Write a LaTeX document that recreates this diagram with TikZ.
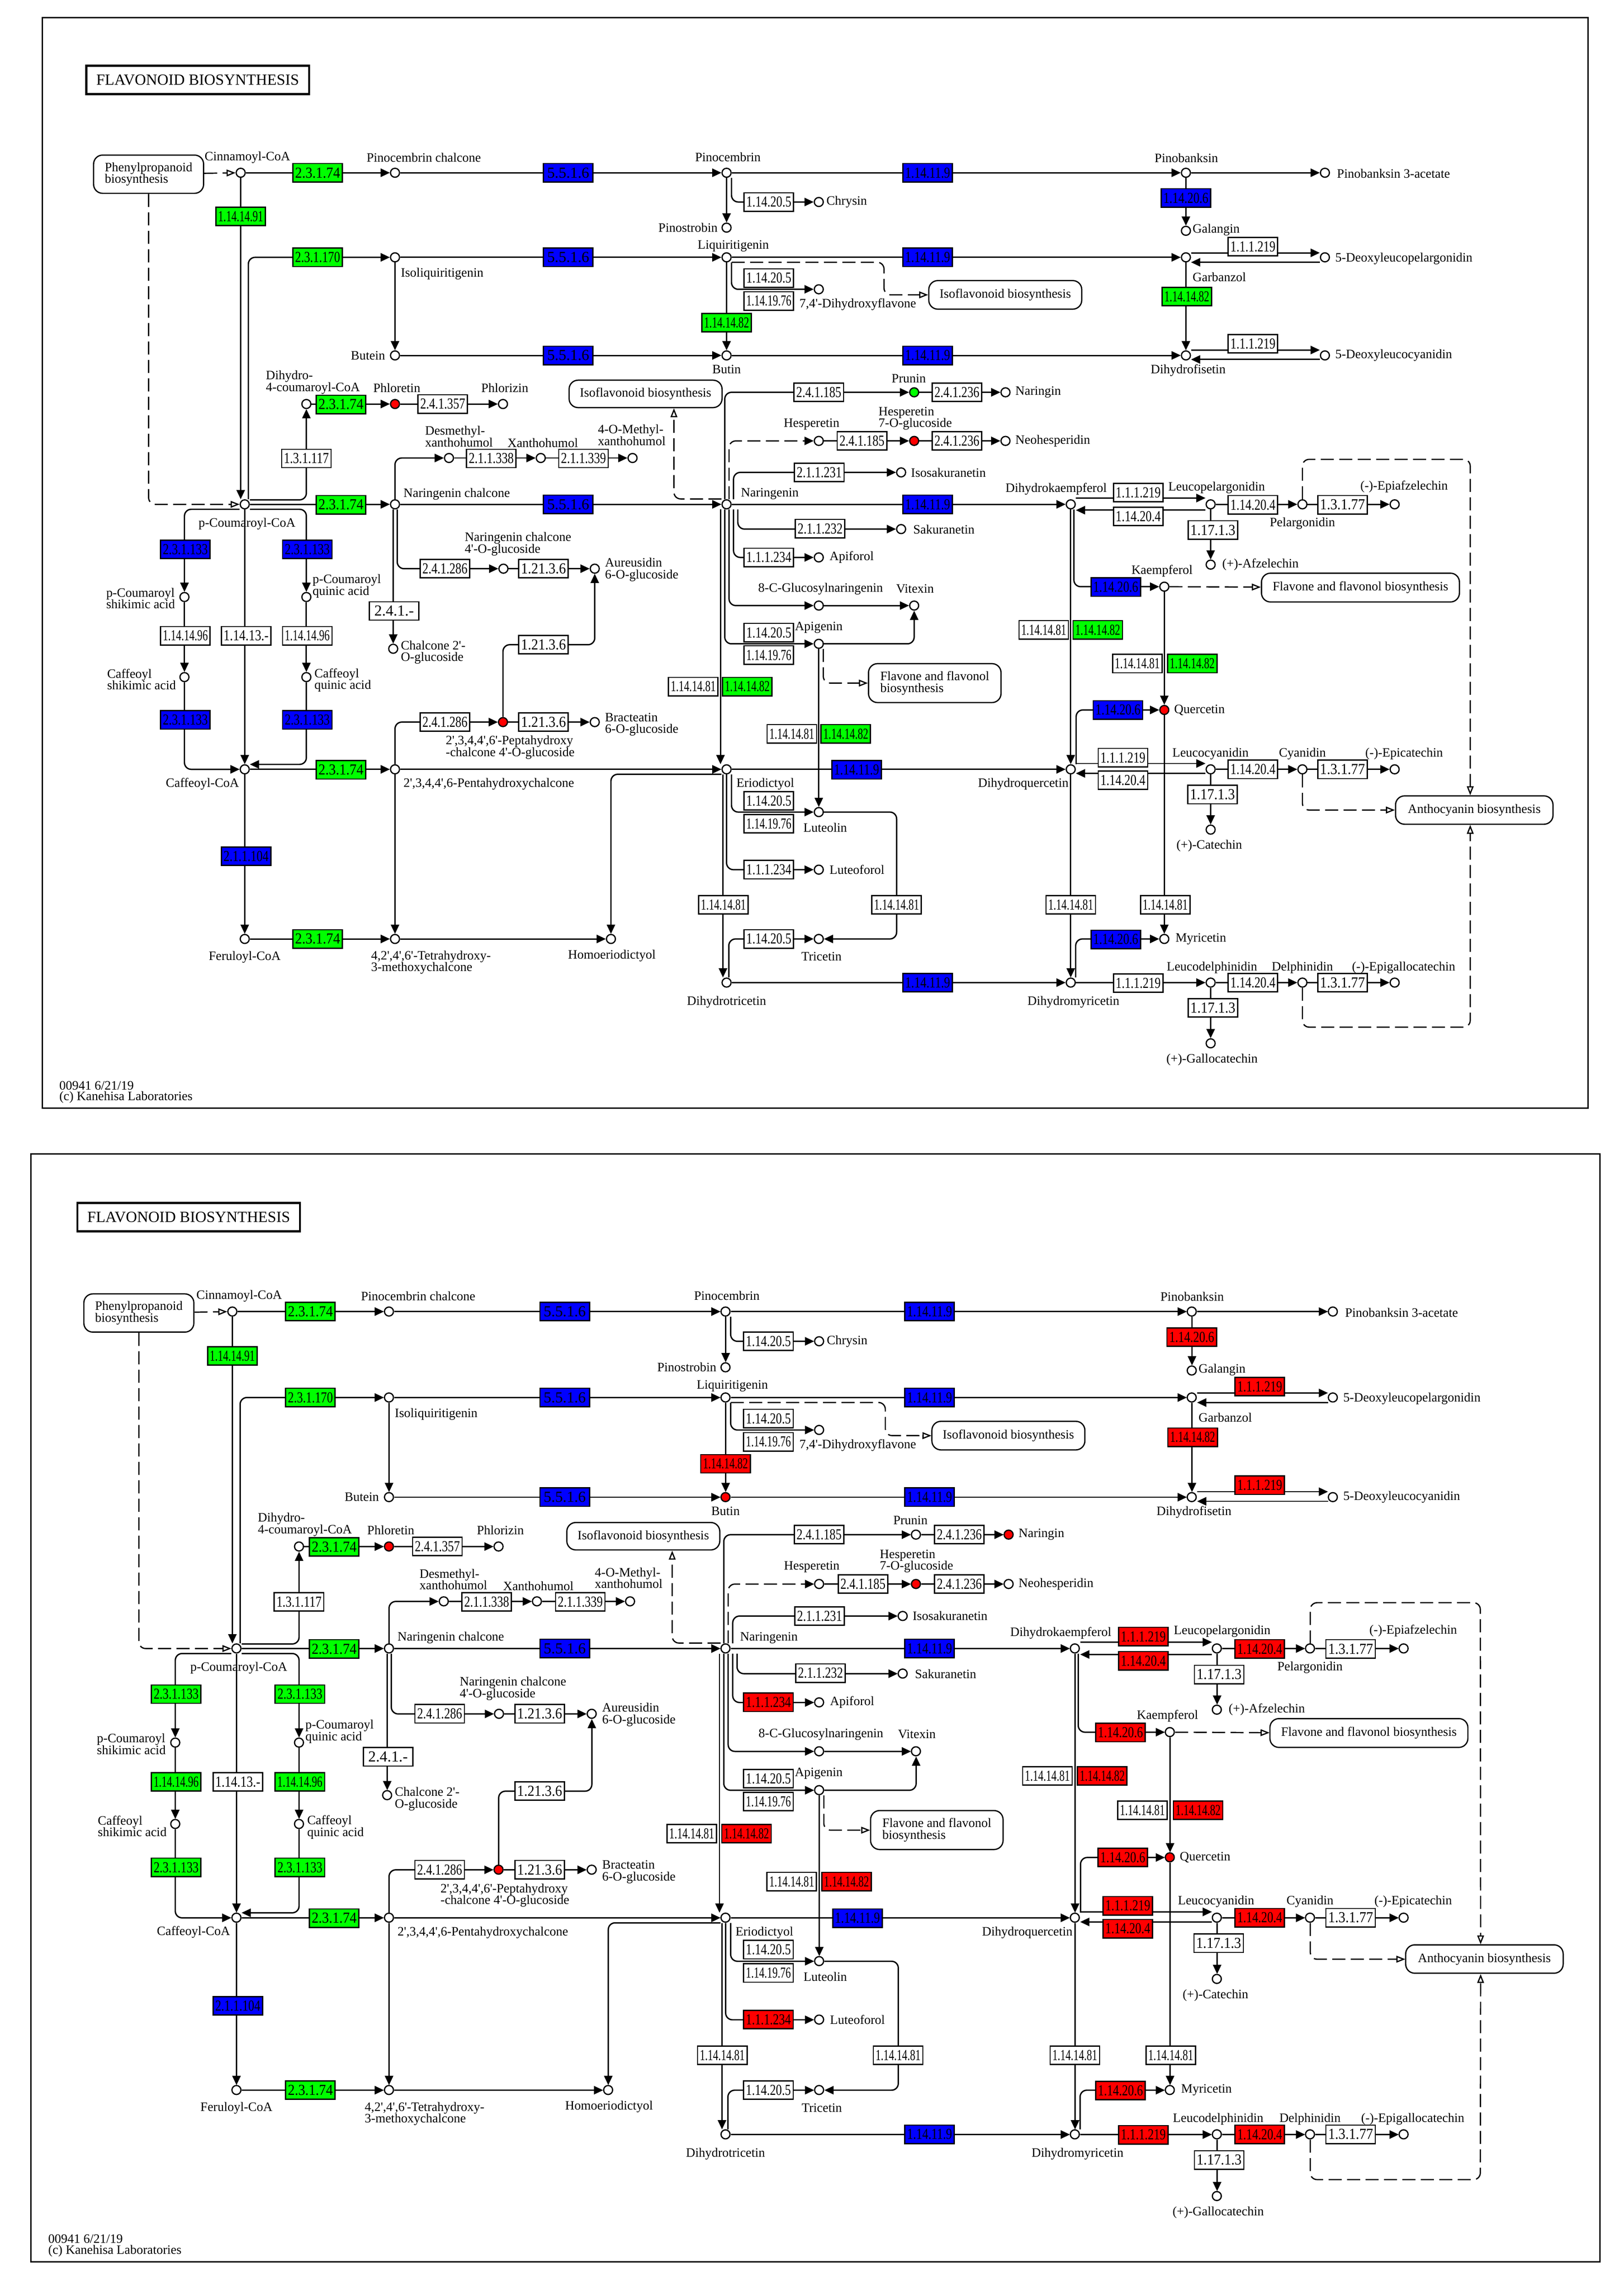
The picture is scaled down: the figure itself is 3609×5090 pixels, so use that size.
\documentclass[tikz,border=0pt]{standalone}
\usepackage{fontspec}
\setmainfont{Liberation Serif}
\usepackage{graphicx}
\usetikzlibrary{arrows.meta}
\definecolor{kG}{RGB}{0,255,0}
\definecolor{kB}{RGB}{0,0,255}
\definecolor{kR}{RGB}{255,0,0}
\colorlet{kW}{white}
\newif\ifbot
\newsavebox\ecbox
\newcommand\labf{\fontsize{5.7pt}{5.2pt}\selectfont}
\newcommand\ecf{\fontsize{6.8pt}{6.8pt}\selectfont}
\newcommand\titf{\fontsize{6.9pt}{8pt}\selectfont}
\newcommand\pr{\textquotesingle}
\newcommand\ecfit[1]{\sbox\ecbox{\ecf #1}\ifdim\wd\ecbox>20pt\relax\resizebox{20pt}{\ht\ecbox}{\usebox\ecbox}\else\usebox\ecbox\fi}
\newcommand\kE[6]{\ifbot\def\kc{#6}\else\def\kc{#5}\fi\node[ec,fill=\kc] (#1) at (#2,#3) {\ecfit{#4}};}
\newcommand\kC[5]{\ifbot\def\kc{#5}\else\def\kc{#4}\fi\node[cpd,fill=\kc] (#1) at (#2,#3) {};}
\newcommand\kL[5]{\node[lab,anchor=#4] (#1) at (#2,#3) {#5};}
\pgfdeclarelayer{bg}
\pgfsetlayers{bg,main}
\tikzset{
  ec/.style={draw,line width=0.55pt,minimum width=22pt,minimum height=8.2pt,inner sep=0pt},
  cpd/.style={circle,draw,line width=0.55pt,minimum size=4pt,inner sep=0pt},
  lab/.style={font=\labf,inner sep=0pt,align=left},
  mapb/.style={draw,rounded corners=4pt,line width=0.55pt,inner sep=0pt,align=left,font=\labf,fill=white},
  ln/.style={line width=0.6pt},
  arr/.style={-{Triangle[length=4.1pt,width=3.7pt]}},
  oarr/.style={-{Triangle[open,length=4pt,width=3pt]}},
  dsh/.style={line width=0.55pt,dash pattern=on 5.8pt off 2.4pt},
  rc/.style={rounded corners=3pt}
}
\newcommand\kmap{%
\draw[line width=0.6pt] (94,39) rectangle (3530,2463);
\node[draw,line width=0.9pt,minimum width=99pt,minimum height=12.6pt,inner sep=0pt,font=\titf] (title) at (439.5,177.5) {FLAVONOID BIOSYNTHESIS};
% pathway map boxes
\node[mapb,minimum width=48.9pt,minimum height=17pt] (ppb) at (330.3,387.2) {Phenylpropanoid\\biosynthesis};
\node[mapb,minimum width=68pt,minimum height=12.7pt] (iso1) at (2234.5,655.4) {Isoflavonoid biosynthesis};
\node[mapb,minimum width=68pt,minimum height=12.2pt] (iso2) at (1435,875.5) {Isoflavonoid biosynthesis};
\node[mapb,minimum width=58.9pt,minimum height=17.3pt] (flv1) at (2077.8,1518.3) {Flavone and flavonol\\biosynthesis};
\node[mapb,minimum width=88pt,minimum height=12.8pt] (flv2) at (3024,1306) {Flavone and flavonol biosynthesis};
\node[mapb,minimum width=70pt,minimum height=12.6pt] (antho) at (3277,1800.5) {Anthocyanin biosynthesis};
% compounds
\kC{cin}{535}{384}{kW}{kW}
\kC{pinch}{878}{384}{kW}{kW}
\kC{pcb}{1615}{384}{kW}{kW}
\kC{pnb}{2636}{384}{kW}{kW}
\kC{pnba}{2945}{384}{kW}{kW}
\kC{chr}{1820}{449}{kW}{kW}
\kC{pst}{1615}{506}{kW}{kW}
\kC{gal}{2636}{513}{kW}{kW}
\kC{isl}{878}{572}{kW}{kW}
\kC{liq}{1615}{572}{kW}{kW}
\kC{gbz}{2636}{572}{kW}{kW}
\kC{dlp}{2945}{572}{kW}{kW}
\kC{dhf7}{1820}{643}{kW}{kW}
\kC{but}{878}{790}{kW}{kW}
\kC{btn}{1615}{790}{kW}{kR}
\kC{dfs}{2636}{790}{kW}{kW}
\kC{dlc}{2945}{790}{kW}{kW}
\kC{dhc}{681}{898}{kW}{kW}
\kC{phl}{878}{898}{kR}{kR}
\kC{phz}{1118}{898}{kW}{kW}
\kC{pco}{544}{1121}{kW}{kW}
\kC{nch}{878}{1121}{kW}{kW}
\kC{nar}{1615}{1121}{kW}{kW}
\kC{dhk}{2380}{1121}{kW}{kW}
\kC{dmx}{998}{1018}{kW}{kW}
\kC{xan}{1202}{1018}{kW}{kW}
\kC{mxan}{1406}{1018}{kW}{kW}
\kC{ncg}{1119}{1264}{kW}{kW}
\kC{aur}{1322}{1264}{kW}{kW}
\kC{ctg}{874}{1442}{kW}{kW}
\kC{pcs}{410}{1327}{kW}{kW}
\kC{pcq}{681}{1327}{kW}{kW}
\kC{cfs}{410}{1505}{kW}{kW}
\kC{cfq}{681}{1505}{kW}{kW}
\kC{caf}{544}{1710}{kW}{kW}
\kC{phc}{878}{1710}{kW}{kW}
\kC{pgl}{1118}{1605}{kR}{kR}
\kC{brc}{1322}{1605}{kW}{kW}
\kC{eri}{1615}{1710}{kW}{kW}
\kC{dhq}{2380}{1710}{kW}{kW}
\kC{fer}{544}{2087}{kW}{kW}
\kC{thm}{878}{2087}{kW}{kW}
\kC{hom}{1358}{2087}{kW}{kW}
\kC{dtc}{1615}{2184}{kW}{kW}
\kC{dhm}{2380}{2184}{kW}{kW}
\kC{lut}{1820}{1805}{kW}{kW}
\kC{ltf}{1820}{1933}{kW}{kW}
\kC{tri}{1820}{2087}{kW}{kW}
\kC{prn}{2032}{872}{kG}{kW}
\kC{ngn}{2235}{872}{kW}{kR}
\kC{hsp}{1820}{980}{kW}{kW}
\kC{hsg}{2032}{980}{kR}{kR}
\kC{nhs}{2235}{980}{kW}{kW}
\kC{isk}{2003}{1050}{kW}{kW}
\kC{skr}{2003}{1176}{kW}{kW}
\kC{apf}{1820}{1239}{kW}{kW}
\kC{cgn}{1820}{1346}{kW}{kW}
\kC{vit}{2032}{1346}{kW}{kW}
\kC{api}{1820}{1431}{kW}{kW}
\kC{lpg}{2691}{1121}{kW}{kW}
\kC{plg}{2895}{1121}{kW}{kW}
\kC{epa}{3100}{1121}{kW}{kW}
\kC{afz}{2691}{1255}{kW}{kW}
\kC{kmp}{2588}{1304}{kW}{kW}
\kC{qct}{2588}{1578}{kR}{kR}
\kC{lcy}{2691}{1710}{kW}{kW}
\kC{cya}{2895}{1710}{kW}{kW}
\kC{epc}{3100}{1710}{kW}{kW}
\kC{cat}{2691}{1844}{kW}{kW}
\kC{myr}{2588}{2087}{kW}{kW}
\kC{ldp}{2691}{2184}{kW}{kW}
\kC{dlph}{2895}{2184}{kW}{kW}
\kC{egc}{3100}{2184}{kW}{kW}
\kC{gct}{2691}{2319}{kW}{kW}
% enzymes
\kE{e1}{706}{384}{2.3.1.74}{kG}{kG}
\kE{e2}{535}{481}{1.14.14.91}{kG}{kG}
\kE{e3}{1263}{384}{5.5.1.6}{kB}{kB}
\kE{e4}{2062}{384}{1.14.11.9}{kB}{kB}
\kE{e5}{2636}{440}{1.14.20.6}{kB}{kR}
\kE{e6}{1709}{449}{1.14.20.5}{kW}{kW}
\kE{e7}{706}{572}{2.3.1.170}{kG}{kG}
\kE{e8}{1263}{572}{5.5.1.6}{kB}{kB}
\kE{e9}{2062}{572}{1.14.11.9}{kB}{kB}
\kE{e10}{1709}{618}{1.14.20.5}{kW}{kW}
\kE{e11}{1709}{669}{1.14.19.76}{kW}{kW}
\kE{e12}{1615}{717}{1.14.14.82}{kG}{kR}
\kE{e13}{2785}{548}{1.1.1.219}{kW}{kR}
\kE{e14}{2638}{659}{1.14.14.82}{kG}{kR}
\kE{e15}{1263}{790}{5.5.1.6}{kB}{kB}
\kE{e16}{2062}{790}{1.14.11.9}{kB}{kB}
\kE{e17}{2785}{764}{1.1.1.219}{kW}{kR}
\kE{e18}{758}{899}{2.3.1.74}{kG}{kG}
\kE{e19}{984}{898}{2.4.1.357}{kW}{kW}
\kE{e20}{681}{1019}{1.3.1.117}{kW}{kW}
\kE{e21}{758}{1122}{2.3.1.74}{kG}{kG}
\kE{e22}{1263}{1121}{5.5.1.6}{kB}{kB}
\kE{e23}{2062}{1121}{1.14.11.9}{kB}{kB}
\kE{e24}{1092}{1019}{2.1.1.338}{kW}{kW}
\kE{e25}{1297}{1019}{2.1.1.339}{kW}{kW}
\kE{e26}{989}{1264}{2.4.1.286}{kW}{kW}
\kE{e27}{1208}{1264}{1.21.3.6}{kW}{kW}
\kE{e28}{876}{1358}{2.4.1.-}{kW}{kW}
\kE{e29}{412}{1221}{2.3.1.133}{kB}{kG}
\kE{e30}{683}{1221}{2.3.1.133}{kB}{kG}
\kE{e31}{412}{1413}{1.14.14.96}{kW}{kG}
\kE{e32}{547}{1413}{1.14.13.-}{kW}{kW}
\kE{e33}{683}{1413}{1.14.14.96}{kW}{kG}
\kE{e34}{412}{1600}{2.3.1.133}{kB}{kG}
\kE{e35}{683}{1600}{2.3.1.133}{kB}{kG}
\kE{e36}{547}{1903}{2.1.1.104}{kB}{kB}
\kE{e37}{758}{1711}{2.3.1.74}{kG}{kG}
\kE{e38}{989}{1605}{2.4.1.286}{kW}{kW}
\kE{e39}{1208}{1605}{1.21.3.6}{kW}{kW}
\kE{e40}{1208}{1433}{1.21.3.6}{kW}{kW}
\kE{e41}{706}{2087}{2.3.1.74}{kG}{kG}
\kE{e42}{1904}{1711}{1.14.11.9}{kB}{kB}
\kE{e43}{1820}{872}{2.4.1.185}{kW}{kW}
\kE{e44}{2127}{872}{2.4.1.236}{kW}{kW}
\kE{e45}{1916}{980}{2.4.1.185}{kW}{kW}
\kE{e46}{2127}{980}{2.4.1.236}{kW}{kW}
\kE{e47}{1821}{1050}{2.1.1.231}{kW}{kW}
\kE{e48}{1823}{1175}{2.1.1.232}{kW}{kW}
\kE{e49}{1709}{1239}{1.1.1.234}{kW}{kR}
\kE{e50}{1709}{1406}{1.14.20.5}{kW}{kW}
\kE{e51}{1709}{1456}{1.14.19.76}{kW}{kW}
\kE{e52}{1541}{1526}{1.14.14.81}{kW}{kW}
\kE{e53}{1661}{1526}{1.14.14.82}{kG}{kR}
\kE{e54}{1760}{1631}{1.14.14.81}{kW}{kW}
\kE{e55}{1880}{1631}{1.14.14.82}{kG}{kR}
\kE{e56}{1709}{1780}{1.14.20.5}{kW}{kW}
\kE{e57}{1709}{1831}{1.14.19.76}{kW}{kW}
\kE{e58}{1709}{1933}{1.1.1.234}{kW}{kR}
\kE{e59}{1608}{2011}{1.14.14.81}{kW}{kW}
\kE{e60}{1993}{2011}{1.14.14.81}{kW}{kW}
\kE{e61}{1709}{2087}{1.14.20.5}{kW}{kW}
\kE{e62}{2062}{2184}{1.14.11.9}{kB}{kB}
\kE{e63}{2530}{1095}{1.1.1.219}{kW}{kR}
\kE{e64}{2530}{1148}{1.14.20.4}{kW}{kR}
\kE{e65}{2785}{1122}{1.14.20.4}{kW}{kR}
\kE{e66}{2984}{1122}{1.3.1.77}{kW}{kW}
\kE{e67}{2696}{1178}{1.17.1.3}{kW}{kW}
\kE{e68}{2480}{1305}{1.14.20.6}{kB}{kR}
\kE{e69}{2320}{1400}{1.14.14.81}{kW}{kW}
\kE{e70}{2440}{1400}{1.14.14.82}{kG}{kR}
\kE{e71}{2528}{1475}{1.14.14.81}{kW}{kW}
\kE{e72}{2650}{1475}{1.14.14.82}{kG}{kR}
\kE{e73}{2485}{1578}{1.14.20.6}{kB}{kR}
\kE{e74}{2496}{1684}{1.1.1.219}{kW}{kR}
\kE{e75}{2496}{1734}{1.14.20.4}{kW}{kR}
\kE{e76}{2785}{1710}{1.14.20.4}{kW}{kR}
\kE{e77}{2984}{1710}{1.3.1.77}{kW}{kW}
\kE{e78}{2695}{1766}{1.17.1.3}{kW}{kW}
\kE{e79}{2590}{2011}{1.14.14.81}{kW}{kW}
\kE{e80}{2380}{2011}{1.14.14.81}{kW}{kW}
\kE{e81}{2480}{2088}{1.14.20.6}{kB}{kR}
\kE{e82}{2530}{2185}{1.1.1.219}{kW}{kR}
\kE{e83}{2785}{2184}{1.14.20.4}{kW}{kR}
\kE{e84}{2984}{2184}{1.3.1.77}{kW}{kW}
\kE{e85}{2696}{2240}{1.17.1.3}{kW}{kW}
% labels
\kL{lcin}{550}{350}{center}{Cinnamoyl-CoA}
\kL{lpinch}{942}{350}{center}{Pinocembrin chalcone}
\kL{lpcb}{1618}{349}{center}{Pinocembrin}
\kL{lpnb}{2637}{351}{center}{Pinobanksin}
\kL{lpnba}{2971}{386}{west}{Pinobanksin 3-acetate}
\kL{lchr}{1836}{449}{west}{Chrysin}
\kL{lpst}{1596}{506}{east}{Pinostrobin}
\kL{lgal}{2650}{511}{west}{Galangin}
\kL{lisl}{890}{609}{west}{Isoliquiritigenin}
\kL{lliq}{1630}{547}{center}{Liquiritigenin}
\kL{lgbz}{2650}{616}{west}{Garbanzol}
\kL{ldlp}{2967}{575}{west}{5-Deoxyleucopelargonidin}
\kL{ldhf7}{1776}{677}{west}{7,4\pr-Dihydroxyflavone}
\kL{lbut}{857}{790}{east}{Butein}
\kL{lbtn}{1615}{821}{center}{Butin}
\kL{ldfs}{2641}{823}{center}{Dihydrofisetin}
\kL{ldlc}{2967}{790}{west}{5-Deoxyleucocyanidin}
\kL{ldhc}{590}{850}{west}{Dihydro-\\4-coumaroyl-CoA}
\kL{lphl}{882}{862}{center}{Phloretin}
\kL{lphz}{1122}{862}{center}{Phlorizin}
\kL{ldmx}{944}{970}{west}{Desmethyl-\\xanthohumol}
\kL{lxan}{1127}{984}{west}{Xanthohumol}
\kL{lmxan}{1328}{967}{west}{4-O-Methyl-\\xanthohumol}
\kL{lpco}{549}{1164}{center}{p-Coumaroyl-CoA}
\kL{lnch}{896}{1098}{west}{Naringenin chalcone}
\kL{lnar}{1646}{1098}{west}{Naringenin}
\kL{ldhk}{2461}{1087}{east}{Dihydrokaempferol}
\kL{lncg}{1032}{1209}{west}{Naringenin chalcone\\4\pr-O-glucoside}
\kL{laur}{1344}{1266}{west}{Aureusidin\\6-O-glucoside}
\kL{lctg}{890}{1450}{west}{Chalcone 2\pr-\\O-glucoside}
\kL{lpcs}{390}{1330}{east}{p-Coumaroyl\\shikimic acid}
\kL{lpcq}{694}{1303}{west}{p-Coumaroyl\\quinic acid}
\kL{lcfs}{392}{1510}{east}{Caffeoyl\\shikimic acid}
\kL{lcfq}{698}{1512}{west}{Caffeoyl\\quinic acid}
\kL{lcaf}{450}{1742}{center}{Caffeoyl-CoA}
\kL{lphc}{896}{1743}{west}{2\pr,3,4,4\pr,6-Pentahydroxychalcone}
\kL{lpgl}{990}{1661}{west}{2\pr,3,4,4\pr,6\pr-Peptahydroxy\\-chalcone 4\pr-O-glucoside}
\kL{lbrc}{1344}{1610}{west}{Bracteatin\\6-O-glucoside}
\kL{leri}{1636}{1743}{west}{Eriodictyol}
\kL{ldhq}{2376}{1743}{east}{Dihydroquercetin}
\kL{lfer}{544}{2127}{center}{Feruloyl-CoA}
\kL{lthm}{824}{2139}{west}{4,2\pr,4\pr,6\pr-Tetrahydroxy-\\3-methoxychalcone}
\kL{lhom}{1360}{2124}{center}{Homoeriodictyol}
\kL{llut}{1785}{1839}{west}{Luteolin}
\kL{lltf}{1843}{1933}{west}{Luteoforol}
\kL{ltri}{1826}{2126}{center}{Tricetin}
\kL{ldtc}{1615}{2227}{center}{Dihydrotricetin}
\kL{ldhm}{2386}{2227}{center}{Dihydromyricetin}
\kL{lprn}{2020}{841}{center}{Prunin}
\kL{lngn}{2256}{872}{west}{Naringin}
\kL{lhsp}{1804}{943}{center}{Hesperetin}
\kL{lhsg}{1952}{930}{west}{Hesperetin\\7-O-glucoside}
\kL{lnhs}{2256}{980}{west}{Neohesperidin}
\kL{lisk}{2024}{1050}{west}{Isosakuranetin}
\kL{lskr}{2029}{1177}{west}{Sakuranetin}
\kL{lapf}{1843}{1239}{west}{Apiforol}
\kL{lcgn}{1824}{1309}{center}{8-C-Glucosylnaringenin}
\kL{lvit}{2034}{1309}{center}{Vitexin}
\kL{lapi}{1766}{1395}{west}{Apigenin}
\kL{llpg}{2596}{1084}{west}{Leucopelargonidin}
\kL{lplg}{2895}{1163}{center}{Pelargonidin}
\kL{lepa}{3121}{1082}{center}{(-)-Epiafzelechin}
\kL{lafz}{2716}{1255}{west}{(+)-Afzelechin}
\kL{lkmp}{2583}{1269}{center}{Kaempferol}
\kL{lqct}{2609}{1578}{west}{Quercetin}
\kL{llcy}{2605}{1675}{west}{Leucocyanidin}
\kL{lcya}{2895}{1675}{center}{Cyanidin}
\kL{lepc}{3121}{1675}{center}{(-)-Epicatechin}
\kL{lcat}{2688}{1880}{center}{(+)-Catechin}
\kL{lmyr}{2612}{2087}{west}{Myricetin}
\kL{lldp}{2694}{2151}{center}{Leucodelphinidin}
\kL{ldlph}{2895}{2151}{center}{Delphinidin}
\kL{legc}{3120}{2151}{center}{(-)-Epigallocatechin}
\kL{lgct}{2694}{2355}{center}{(+)-Gallocatechin}
\kL{lf1}{131}{2413}{west}{00941 6/21/19}
\kL{lf2}{131}{2439}{west}{(c) Kanehisa Laboratories}
% connectors
\begin{pgfonlayer}{bg}
\draw[dsh,oarr] (ppb) -- (cin);
\draw[dsh,oarr,rc] (ppb.south) |- (pco);
\draw[ln,arr] (cin) -- (pinch);
\draw[ln,arr] (pinch) -- (pcb);
\draw[ln,arr] (pcb) -- (pnb);
\draw[ln,arr] (pnb) -- (pnba);
\draw[ln,arr] (pnb) -- (gal);
\draw[ln,arr] (pcb) -- (pst);
\draw[ln,arr,rc] ([xshift=2.2pt]pcb.south) |- (chr);
\draw[ln,arr] (cin) -- (cin |- pco.north);
\draw[ln,arr,rc] ([xshift=1.6pt]pco.north) |- (isl);
\draw[ln,arr] (isl) -- (but);
\draw[ln,arr] (isl) -- (liq);
\draw[ln,arr] (but) -- (btn);
\draw[ln,arr] (liq) -- (gbz);
\draw[ln,arr] (btn) -- (dfs);
\draw[ln,arr] (liq) -- (btn);
\draw[ln,arr,rc] ([xshift=2.2pt]liq.south) |- (dhf7);
\draw[dsh,oarr,rc] ([yshift=-2.2pt]liq.east) -- (1965,583) -- (1965,655.4) -- (iso1.west);
\draw[ln,arr] (gbz) -- (dfs);
\draw[ln,arr] ([yshift=2pt]gbz.east) -- ([yshift=2pt]dlp.west);
\draw[ln,arr] ([yshift=-2.2pt]dlp.west) -- ([yshift=-2.2pt]gbz.east);
\draw[ln,arr] ([yshift=2.4pt]dfs.east) -- ([yshift=2.4pt]dlc.west);
\draw[ln,arr] ([yshift=-1.8pt]dlc.west) -- ([yshift=-1.8pt]dfs.east);
\draw[ln,arr,rc] ([yshift=2pt]pco.east) -| (dhc);
\draw[ln,arr] (dhc) -- (phl);
\draw[ln,arr] (phl) -- (phz);
\draw[ln,arr] (pco) -- (nch);
\draw[ln,arr] (nch) -- (nar);
\draw[ln,arr] (nar) -- (dhk);
\draw[ln,arr,rc] (nch) |- (dmx);
\draw[ln,arr] (dmx) -- (xan);
\draw[ln,arr] (xan) -- (mxan);
\draw[ln,arr,rc] ([xshift=1pt]nch.south) |- (ncg);
\draw[ln,arr] ([xshift=-0.8pt]nch.south) -- (ctg);
\draw[ln,arr] (ncg) -- (aur);
\draw[ln,arr,rc] (pgl) |- (e40.center) -| (aur);
\draw[ln,arr,rc] (phc) |- (pgl);
\draw[ln,arr] (pgl) -- (brc);
\draw[ln,arr,rc] ([yshift=-2.2pt]pco.west) -| (pcs);
\draw[ln,arr,rc] ([yshift=-2.2pt]pco.east) -| (pcq);
\draw[ln,arr] (pcs) -- (cfs);
\draw[ln,arr] (pcq) -- (cfq);
\draw[ln,arr,rc] (cfs) |- (caf);
\draw[ln,arr,rc] (cfq) |- ([yshift=2.2pt]caf.east);
\draw[ln,arr] (pco) -- (caf);
\draw[ln,arr] (caf) -- (fer);
\draw[ln,arr] (caf) -- (phc);
\draw[ln,arr] (phc) -- (eri);
\draw[ln,arr] (eri) -- (dhq);
\draw[ln,arr] (fer) -- (thm);
\draw[ln,arr] (phc) -- (thm);
\draw[ln,arr] (thm) -- (hom);
\draw[ln,arr,rc] ([yshift=-2.2pt]eri.west) -| (hom);
\draw[ln,arr,rc] ([xshift=-0.8pt]nar.north) |- (prn);
\draw[ln,arr] (prn) -- (ngn);
\draw[dsh,arr,rc] ([xshift=1.1pt]nar.north) |- (hsp);
\draw[ln,arr] (hsp) -- (hsg);
\draw[ln,arr] (hsg) -- (nhs);
\draw[ln,arr,rc] ([xshift=3.1pt]nar.north) |- (isk);
\draw[dsh,oarr,rc] ([yshift=2.4pt]nar.west) -| ([xshift=12.6pt]iso2.south);
\draw[ln,arr,rc] ([xshift=5pt]nar.south) |- (skr);
\draw[ln,arr,rc] ([xshift=3.1pt]nar.south) |- (apf);
\draw[ln,arr,rc] ([xshift=1.1pt]nar.south) |- (cgn);
\draw[ln,arr] (cgn) -- (vit);
\draw[ln,arr,rc] ([xshift=-0.8pt]nar.south) |- (api);
\draw[ln,arr,rc] (api) -| (vit);
\draw[ln,arr] ([xshift=-2.7pt]nar.south) -- ([xshift=-2.7pt]eri.north);
\draw[ln,arr] (api) -- (lut);
\draw[dsh,oarr,rc] ([xshift=2pt]api.south) |- (flv1.west);
\draw[ln,arr,rc] ([xshift=2.2pt]eri.south) |- (lut);
\draw[ln,arr,rc] (eri.south) |- (ltf);
\draw[ln,arr] ([xshift=-1.6pt]eri.south) -- ([xshift=-1.6pt]dtc.north);
\draw[ln,arr,rc] (lut) -| (e60.center) |- (tri);
\draw[ln,arr,rc] ([xshift=1pt]dtc.north) |- (tri);
\draw[ln,arr] (dtc) -- (dhm);
\draw[ln,arr] ([yshift=2.8pt]dhk.east) -- ([yshift=2.8pt]lpg.west);
\draw[ln,arr] ([yshift=-2.6pt]lpg.west) -- ([yshift=-2.6pt]dhk.east);
\draw[ln,arr] (lpg) -- (plg);
\draw[ln,arr] (plg) -- (epa);
\draw[ln,arr] (lpg) -- (afz);
\draw[dsh,oarr,rc] (plg) |- (3268,1021) -- ([xshift=-1.8pt]antho.north);
\draw[ln,arr,rc] ([xshift=1.4pt]dhk.south) |- (kmp);
\draw[dsh,oarr] (kmp) -- (flv2);
\draw[ln,arr] (kmp) -- (qct);
\draw[ln,arr] (dhk) -- (dhq);
\draw[ln,arr,rc] ([xshift=2.4pt]dhq.north) |- (qct);
\draw[ln,arr] ([yshift=2.6pt]dhq.east) -- ([yshift=2.6pt]lcy.west);
\draw[ln,arr] ([yshift=-1.8pt]lcy.west) -- ([yshift=-1.8pt]dhq.east);
\draw[ln,arr] (lcy) -- (cya);
\draw[ln,arr] (cya) -- (epc);
\draw[ln,arr] (lcy) -- (cat);
\draw[dsh,oarr,rc] (cya) |- (antho.west);
\draw[ln,arr] (qct) -- (myr);
\draw[ln,arr] (dhq) -- (dhm);
\draw[ln,arr,rc] ([xshift=2.2pt]dhm.north) |- (myr);
\draw[ln,arr] (dhm) -- (ldp);
\draw[ln,arr] (ldp) -- (dlph);
\draw[ln,arr] (dlph) -- (egc);
\draw[ln,arr] (ldp) -- (gct);
\draw[dsh,oarr,rc] (dlph) |- (3268,2283) -- ([xshift=-1.8pt]antho.south);
\end{pgfonlayer}
}
\begin{document}
\begin{tikzpicture}[x=0.2pt,y=-0.2pt]
\useasboundingbox (0,0) rectangle (3609,5090);
\begin{pgfonlayer}{bg}
\fill[white] (0,0) rectangle (3609,5090);
\end{pgfonlayer}
\begin{scope}[name prefix=t-]
\botfalse
\kmap
\end{scope}
\begin{scope}[name prefix=b-,shift={(-26.6,2525)},xscale=1.015,yscale=1.016]
\bottrue
\kmap
\end{scope}
\end{tikzpicture}
\end{document}
